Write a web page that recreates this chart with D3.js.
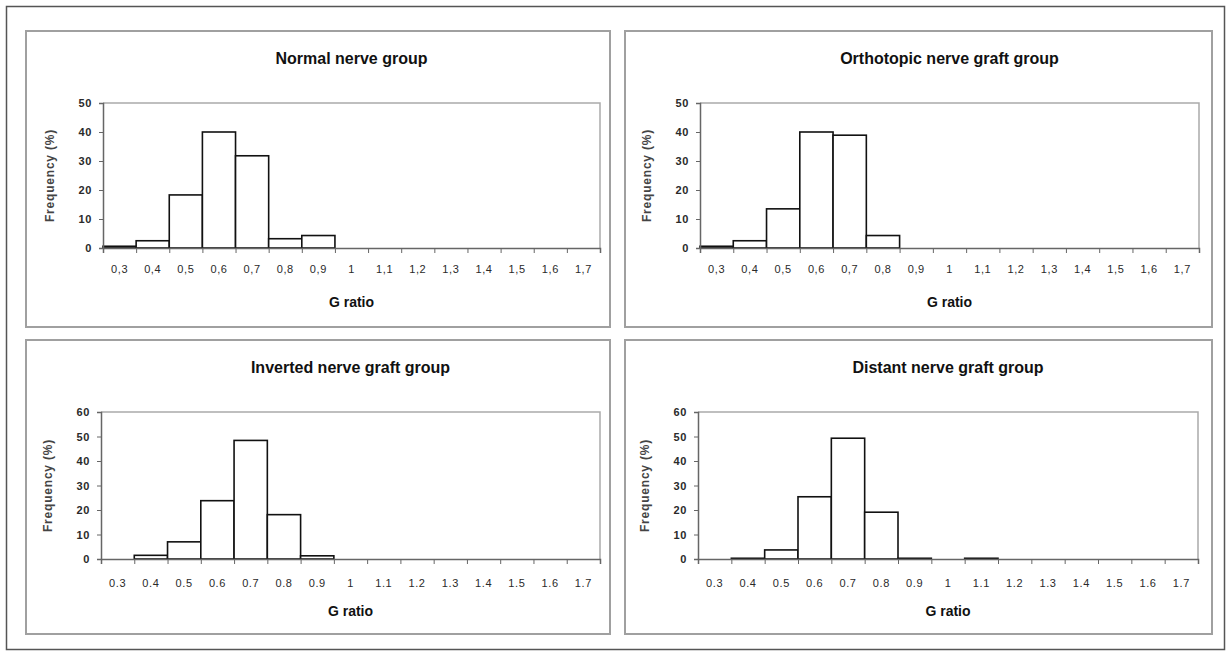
<!DOCTYPE html>
<html>
<head>
<meta charset="utf-8">
<script src="https://cdn.jsdelivr.net/npm/d3@7.9.0/dist/d3.min.js"></script>
<style>
  body { margin: 0; background: #fff; }
  svg { display: block; font-family: "Liberation Sans", Arial, sans-serif; }
  .axis path, .axis line { stroke: #666; }
  .axis text { fill: #2a2a2a; font-size: 11px; letter-spacing: 0.6px; }
</style>
</head>
<body>
<svg id="chart" width="1230" height="654"></svg>
<script>
// G ratio classes (x categories)
const gRatios = ['0.3', '0.4', '0.5', '0.6', '0.7', '0.8', '0.9', '1', '1.1', '1.2', '1.3', '1.4', '1.5', '1.6', '1.7'];

// frequency (%) per class
const normalGroup     = [0.6, 2.5, 18.3, 40, 31.8, 3.2, 4.3, 0, 0, 0, 0, 0, 0, 0, 0];
const orthotopicGroup = [0.6, 2.5, 13.5, 40, 38.9, 4.3, 0, 0, 0, 0, 0, 0, 0, 0, 0];
const invertedGroup   = [0, 1.5, 7, 23.8, 48.4, 18.1, 1.3, 0, 0, 0, 0, 0, 0, 0, 0];
const distantGroup    = [0, 0.3, 3.7, 25.4, 49.3, 19.1, 0.3, 0, 0.3, 0, 0, 0, 0, 0, 0];

const titles = ['Normal nerve group', 'Orthotopic nerve graft group', 'Inverted nerve graft group', 'Distant nerve graft group'];
const yMaxes = [50, 50, 60, 60];
const yStep = 10;
const decimalMarks = [',', ',', '.', '.'];
const xTitle = 'G ratio';
const yTitle = 'Frequency (%)';

const series = [normalGroup, orthotopicGroup, invertedGroup, distantGroup];

// panel frames and plot areas (layout only)
const panels = [
  { box: [26, 31, 610, 327],   plot: { left: 103, right: 600, top: 103, bottom: 248 }, labelPad: 17 },
  { box: [625, 31, 1212, 327], plot: { left: 700, right: 1199, top: 103, bottom: 248 }, labelPad: 17 },
  { box: [26, 340, 610, 634],  plot: { left: 101, right: 600, top: 412, bottom: 559 }, labelPad: 20 },
  { box: [625, 340, 1212, 634], plot: { left: 698, right: 1198, top: 412, bottom: 559 }, labelPad: 20 },
];

const svg = d3.select('#chart');

// outer frame
svg.append('rect')
  .attr('x', 6.5).attr('y', 6.5)
  .attr('width', 1218).attr('height', 643)
  .attr('fill', 'none').attr('stroke', '#555').attr('stroke-width', 1.5);

function renderPanel(i) {
  const p = panels[i];
  const values = series[i];
  const [bx0, by0, bx1, by1] = p.box;
  const { left, right, top, bottom } = p.plot;
  const mark = decimalMarks[i];

  const g = svg.append('g').attr('class', 'panel');

  // panel frame
  g.append('rect')
    .attr('x', bx0).attr('y', by0)
    .attr('width', bx1 - bx0).attr('height', by1 - by0)
    .attr('fill', 'none').attr('stroke', '#a0a0a0').attr('stroke-width', 2);

  const xScale = d3.scaleBand()
    .domain(gRatios)
    .range([left, right])
    .padding(0);

  const xEdges = d3.scaleLinear()
    .domain([0, gRatios.length])
    .range([left, right]);

  const yScale = d3.scaleLinear()
    .domain([0, yMaxes[i]])
    .range([bottom, top]);

  // plot area frame (top / right)
  g.append('path')
    .attr('d', `M${left},${top}H${right}V${bottom}`)
    .attr('fill', 'none').attr('stroke', '#aaa').attr('stroke-width', 1.5);

  // bars
  g.append('g')
    .selectAll('rect')
    .data(values.map((v, k) => ({ cat: gRatios[k], v })).filter(d => d.v > 0))
    .join('rect')
    .attr('x', d => xScale(d.cat))
    .attr('y', d => yScale(d.v))
    .attr('width', xScale.bandwidth())
    .attr('height', d => yScale(0) - yScale(d.v))
    .attr('fill', '#fff')
    .attr('stroke', '#111')
    .attr('stroke-width', 1.6);

  // x tick marks at class edges
  g.append('g')
    .attr('class', 'axis')
    .attr('transform', `translate(0,${bottom})`)
    .call(d3.axisBottom(xEdges).tickValues(d3.range(gRatios.length + 1)).tickSize(5).tickFormat(''))
    .call(a => a.select('.domain').attr('stroke', '#777').attr('stroke-width', 1.5));

  // x labels
  g.append('g')
    .attr('class', 'axis')
    .attr('transform', `translate(0,${bottom})`)
    .call(d3.axisBottom(xScale).tickSize(0).tickPadding(p.labelPad).tickFormat(d => d.replace('.', mark)))
    .call(a => a.select('.domain').remove());

  // y axis
  g.append('g')
    .attr('class', 'axis')
    .attr('transform', `translate(${left},0)`)
    .call(d3.axisLeft(yScale).tickValues(d3.range(0, yMaxes[i] + 1, yStep)).tickSize(4).tickPadding(7))
    .call(a => a.select('.domain').attr('stroke', '#777').attr('stroke-width', 1.5))
    .call(a => a.selectAll('text').attr('font-size', 11).attr('font-weight', 'bold').attr('fill', '#444'));

  const cx = (left + right) / 2;

  // title
  g.append('text')
    .attr('x', cx).attr('y', by0 + 33)
    .attr('text-anchor', 'middle')
    .attr('font-size', 16).attr('font-weight', 'bold').attr('fill', '#111')
    .text(titles[i]);

  // x title
  g.append('text')
    .attr('x', cx).attr('y', by0 + 276)
    .attr('text-anchor', 'middle')
    .attr('font-size', 14).attr('font-weight', 'bold').attr('fill', '#111')
    .text(xTitle);

  // y title
  g.append('text')
    .attr('transform', `translate(${left - 49},${(top + bottom) / 2}) rotate(-90)`)
    .attr('text-anchor', 'middle')
    .attr('font-size', 12).attr('font-weight', 'bold').attr('fill', '#444')
    .attr('letter-spacing', 0.8)
    .text(yTitle);
}

panels.forEach((_, i) => renderPanel(i));
</script>
</body>
</html>
